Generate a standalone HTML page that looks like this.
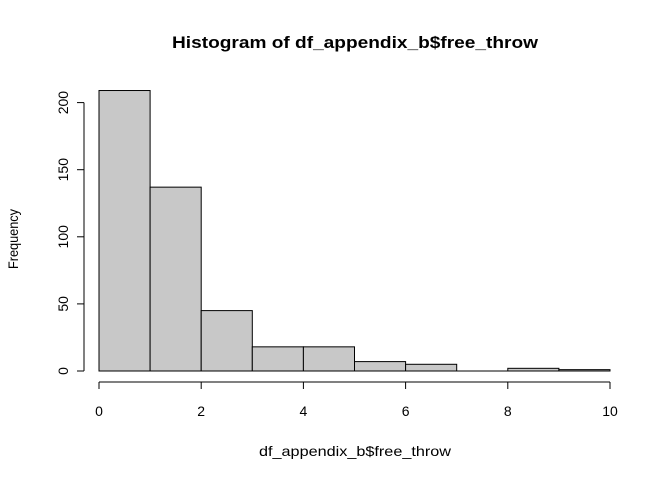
<!DOCTYPE html>
<html><head><meta charset="utf-8"><style>body{margin:0;background:#fff}svg{display:block;font-family:"Liberation Sans",Arial,sans-serif}</style></head>
<body>
<svg id="c" width="672" height="480">
<text x="355" y="48" text-anchor="middle" font-size="17" font-weight="bold" textLength="366" lengthAdjust="spacingAndGlyphs">Histogram of df_appendix_b$free_throw</text>
<text x="355" y="456" text-anchor="middle" font-size="14" textLength="192" lengthAdjust="spacingAndGlyphs">df_appendix_b$free_throw</text>
<text transform="translate(18,239) rotate(-90)" text-anchor="middle" font-size="14" textLength="60" lengthAdjust="spacingAndGlyphs">Frequency</text>
<g id="bars"></g><g id="xa"></g><g id="ya"></g>
</svg>
<script>
const breaks=[0,1,2,3,4,5,6,7,8,9,10];
const counts=[209,137,45,18,18,7,5,0,2,1];
const xTicks=[0,2,4,6,8,10];
const yTicks=[0,50,100,150,200];
const NS="http://www.w3.org/2000/svg";
const X=v=>99+v*51.1, Y=v=>371-v*1.342;
function mk(t,a,p){const e=document.createElementNS(NS,t);for(const k in a)e.setAttribute(k,a[k]);p.appendChild(e);return e;}
const bars=document.getElementById('bars');
counts.forEach((c,i)=>{
let r;
if(c===0){r=mk('line',{x1:X(breaks[i]),x2:X(breaks[i+1]),y1:Y(0),y2:Y(0),stroke:'#000'},bars);}
else{r=mk('rect',{x:X(breaks[i]),y:Y(c),width:X(breaks[i+1])-X(breaks[i]),height:Y(0)-Y(c),fill:'#c8c8c8',stroke:'#000','stroke-width':1},bars);}

});
const xa=document.getElementById('xa');
mk('line',{x1:X(xTicks[0]),x2:X(xTicks[xTicks.length-1]),y1:382,y2:382,stroke:'#000'},xa);
xTicks.forEach(t=>{mk('line',{x1:X(t),x2:X(t),y1:382,y2:389,stroke:'#000'},xa);
const tx=mk('text',{x:X(t),y:416,'text-anchor':'middle','font-size':14},xa);tx.textContent=t;

});
const ya=document.getElementById('ya');
mk('line',{x1:84,x2:84,y1:Y(yTicks[0]),y2:Y(yTicks[yTicks.length-1]),stroke:'#000'},ya);
yTicks.forEach(t=>{mk('line',{x1:77,x2:84,y1:Y(t),y2:Y(t),stroke:'#000'},ya);
const tx=mk('text',{transform:`translate(68,${Y(t)}) rotate(-90)`,'text-anchor':'middle','font-size':14},ya);tx.textContent=t;

});
</script>
</body></html>
